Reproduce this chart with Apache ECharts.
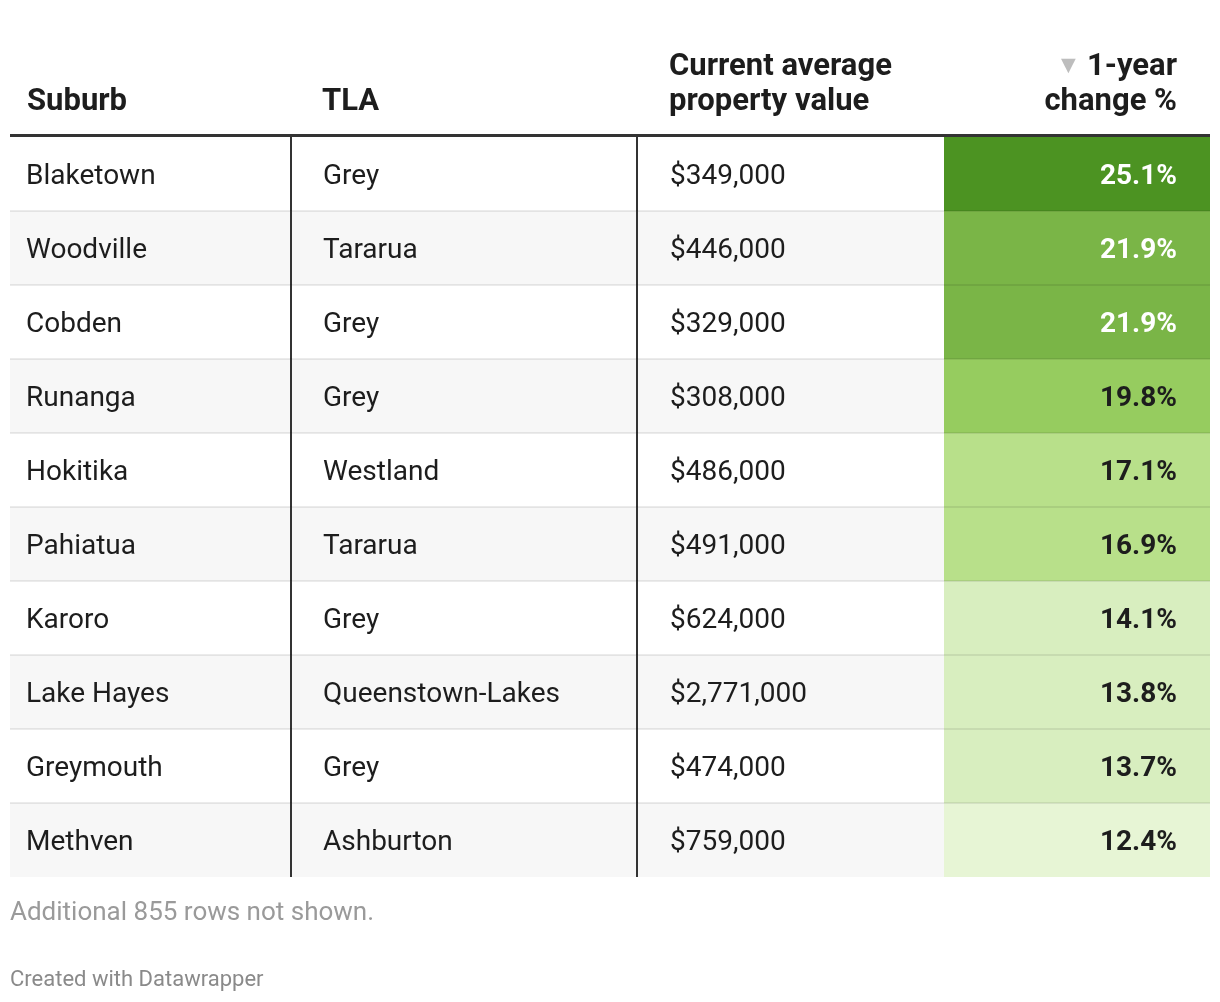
<!DOCTYPE html>
<html>
<head>
<meta charset="utf-8">
<script src="https://cdn.jsdelivr.net/npm/echarts@6/dist/echarts.min.js"></script>
<style>
  html, body { margin: 0; padding: 0; background: #fff; }
  #chart { width: 1220px; height: 1002px; }
</style>
</head>
<body>
<div id="chart"></div>
<script>
// ---- data ----
const suburbs = ['Blaketown', 'Woodville', 'Cobden', 'Runanga', 'Hokitika', 'Pahiatua', 'Karoro', 'Lake Hayes', 'Greymouth', 'Methven'];
const tlas = ['Grey', 'Tararua', 'Grey', 'Grey', 'Westland', 'Tararua', 'Grey', 'Queenstown-Lakes', 'Grey', 'Ashburton'];
const propertyValues = [349000, 446000, 329000, 308000, 486000, 491000, 624000, 2771000, 474000, 759000];
const changes = [25.1, 21.9, 21.9, 19.8, 17.1, 16.9, 14.1, 13.8, 13.7, 12.4];
const headerLabels = ['Suburb', 'TLA', 'Current average\nproperty value', '1-year\nchange %'];
const footerNote = 'Additional 855 rows not shown.';
const creditText = 'Created with Datawrapper';

// ---- style / layout ----
const FONT = 'Roboto, "Noto Sans", sans-serif';
const TEXT = '#1d1d1d';
const colEdges = [0, 281, 627, 934, 1200];       // x-axis units (table width 1200)
const textInset = [16, 313, 660];                  // left text anchors
const pctRight = 1167;
const textShift = 3;
const bins = [
  { min: 24, color: '#4c9322', text: '#ffffff' },
  { min: 20.5, color: '#7ab547', text: '#ffffff' },
  { min: 18, color: '#96cc5f', text: TEXT },
  { min: 15.5, color: '#b8e08a', text: TEXT },
  { min: 13, color: '#d8eebf', text: TEXT },
  { min: -Infinity, color: '#e7f5d5', text: TEXT }
];
function binFor(v) { return bins.find(b => v >= b.min); }
function fmtMoney(v) { return '$' + v.toLocaleString('en-US'); }

const chart = echarts.init(document.getElementById('chart'), null, { renderer: 'canvas' });

const rowData = suburbs.map((s, i) => [0, s, i]);

function renderRow(params, api) {
  const i = api.value(2);
  const cat = suburbs[i];
  const yC = api.coord([0, cat])[1];
  const h = api.size([0, 1])[1];
  const top = yC - h / 2;
  const x = e => api.coord([e, cat])[0];
  const b = binFor(changes[i]);
  const children = [];
  children.push({ type: 'rect', shape: { x: x(colEdges[0]), y: top, width: x(colEdges[3]) - x(colEdges[0]), height: h },
    style: { fill: i % 2 === 1 ? '#f7f7f7' : '#ffffff' } });
  children.push({ type: 'rect', shape: { x: x(colEdges[3]), y: top, width: x(colEdges[4]) - x(colEdges[3]), height: h },
    style: { fill: b.color } });
  if (i > 0) {
    children.push({ type: 'line', shape: { x1: x(colEdges[0]), y1: top, x2: x(colEdges[4]), y2: top },
      style: { stroke: 'rgba(0,0,0,0.08)', lineWidth: 2 } });
  }
  [1, 2].forEach(k => {
    children.push({ type: 'line', shape: { x1: x(colEdges[k]), y1: top, x2: x(colEdges[k]), y2: top + h },
      style: { stroke: '#333333', lineWidth: 2 } });
  });
  const cells = [suburbs[i], tlas[i], fmtMoney(propertyValues[i])];
  cells.forEach((t, k) => {
    children.push({ type: 'text', x: x(textInset[k]), y: yC + textShift,
      style: { text: t, font: '400 28px ' + FONT, fill: TEXT, textAlign: 'left', textVerticalAlign: 'middle' } });
  });
  children.push({ type: 'text', x: x(pctRight), y: yC + textShift,
    style: { text: changes[i].toFixed(1) + '%', font: '700 28px ' + FONT, fill: b.text, textAlign: 'right', textVerticalAlign: 'middle' } });
  return { type: 'group', children };
}

const headerStyle = { font: '700 31px ' + FONT, fill: TEXT, lineHeight: 35 };

chart.setOption({
  animation: false,
  grid: { left: 10, width: 1200, top: 137, height: 740 },
  xAxis: { type: 'value', min: 0, max: 1200, show: false },
  yAxis: { type: 'category', data: suburbs, inverse: true, show: false },
  graphic: [
    { type: 'text', left: 27, top: 85, style: { text: headerLabels[0], ...headerStyle } },
    { type: 'text', left: 322, top: 85, style: { text: headerLabels[1], ...headerStyle } },
    { type: 'text', left: 669, top: 50, style: { text: headerLabels[2], ...headerStyle } },
    { type: 'text', right: 43, top: 50, style: { text: headerLabels[3], ...headerStyle, textAlign: 'right' } },
    { type: 'text', left: 1056, top: 54, style: { text: '▼', font: '400 25px ' + FONT, fill: '#bdbdbd' } },
    { type: 'rect', shape: { x: 10, y: 134, width: 1200, height: 3 }, style: { fill: '#333333' } },
    { type: 'text', left: 10, top: 900, style: { text: footerNote, font: '400 26px ' + FONT, fill: '#9a9a9a' } },
    { type: 'text', left: 10, top: 969, style: { text: creditText, font: '400 22px ' + FONT, fill: '#8a8a8a' } }
  ],
  series: [{
    type: 'custom',
    coordinateSystem: 'cartesian2d',
    renderItem: renderRow,
    encode: { x: 0, y: 1 },
    data: rowData
  }]
});
</script>
</body>
</html>
